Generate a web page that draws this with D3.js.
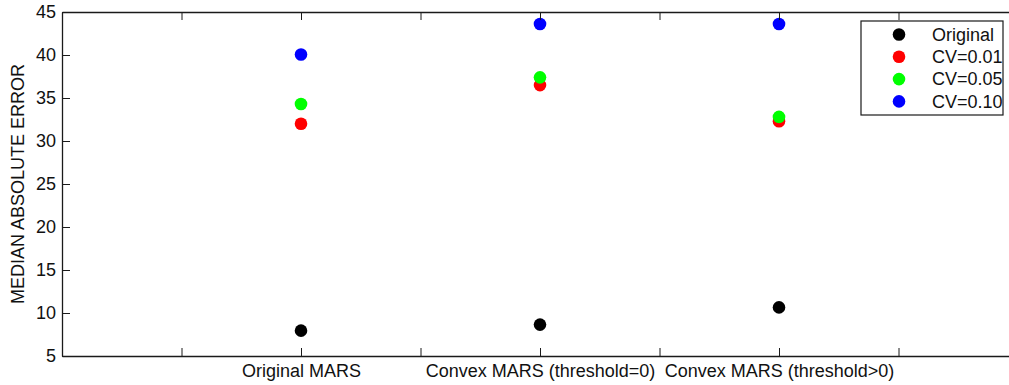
<!DOCTYPE html>
<html>
<head>
<meta charset="utf-8">
<script src="https://cdn.jsdelivr.net/npm/d3@7"></script>
<style>
  html, body { margin: 0; padding: 0; background: #fff; overflow: hidden; }
  svg { display: block; font-family: "Liberation Sans", Arial, Helvetica, sans-serif; }
</style>
</head>
<body>
<svg id="chart" width="1009" height="385"></svg>
<script>
// Methods on the x axis (placed at positions 2, 4, 6)
const methods = ["Original MARS", "Convex MARS (threshold=0)", "Convex MARS (threshold>0)"];
const methodPos = [2, 4, 6];
const xTicks = [1, 2, 3, 4, 5, 6, 7];
const yTicks = [5, 10, 15, 20, 25, 30, 35, 40, 45];

// Median absolute error for each noise setting
const seriesNames = ["Original", "CV=0.01", "CV=0.05", "CV=0.10"];
const seriesColors = ["#000000", "#ff0000", "#00ff00", "#0000ff"];
const original = [7.95, 8.65, 10.65];
const cv001 = [32.0, 36.5, 32.3];
const cv005 = [34.3, 37.4, 32.8];
const cv010 = [40.05, 43.6, 43.6];
const seriesValues = [original, cv001, cv005, cv010];

const svg = d3.select("#chart");
const plotLeft = 62, plotRight = 1018, plotTop = 12, plotBottom = 356;

const x = d3.scaleLinear().domain([0, 8]).range([plotLeft, plotRight]);
const y = d3.scaleLinear().domain([5, 45]).range([plotBottom, plotTop]);

const labelFor = v => {
  const i = methodPos.indexOf(v);
  return i >= 0 ? methods[i] : "";
};

// Points, drawn series by series
seriesValues.forEach((vals, s) => {
  svg.append("g").selectAll("circle")
    .data(vals)
    .join("circle")
    .attr("cx", (d, i) => x(methodPos[i]))
    .attr("cy", d => y(d))
    .attr("r", 6.3)
    .attr("fill", seriesColors[s]);
});

// Box axes with inward ticks
const styleAxis = g => {
  g.attr("font-family", null).attr("font-size", null);
  g.selectAll("path.domain").attr("stroke", "#1a1a1a").attr("stroke-width", 1.3);
  g.selectAll(".tick line").attr("stroke", "#1a1a1a").attr("stroke-width", 1);
  g.selectAll(".tick text").attr("fill", "#111").style("font-size", "18px");
};

svg.append("g")
  .attr("transform", `translate(0,${plotBottom})`)
  .call(d3.axisBottom(x).tickValues(xTicks).tickFormat(labelFor).tickSize(-8).tickSizeOuter(0).tickPadding(8))
  .call(styleAxis);

svg.append("g")
  .attr("transform", `translate(0,${plotTop})`)
  .call(d3.axisTop(x).tickValues(xTicks).tickFormat("").tickSize(-8).tickSizeOuter(0))
  .call(styleAxis);

svg.append("g")
  .attr("transform", `translate(${plotLeft},0)`)
  .call(d3.axisLeft(y).tickValues(yTicks).tickFormat(d3.format("d")).tickSize(-8).tickSizeOuter(0).tickPadding(6))
  .call(styleAxis);

svg.append("g")
  .attr("transform", `translate(${plotRight},0)`)
  .call(d3.axisRight(y).tickValues(yTicks).tickFormat("").tickSize(-8).tickSizeOuter(0))
  .call(styleAxis);

// Y axis title
svg.append("text")
  .attr("transform", `translate(24,${(plotTop + plotBottom) / 2}) rotate(-90)`)
  .attr("text-anchor", "middle")
  .style("font-size", "18px")
  .attr("fill", "#111")
  .text("MEDIAN ABSOLUTE ERROR");

// Legend
const legend = svg.append("g");
legend.append("rect")
  .attr("x", 861).attr("y", 21)
  .attr("width", 142).attr("height", 94)
  .attr("fill", "#fff").attr("stroke", "#1a1a1a").attr("stroke-width", 1.2);

const rows = legend.selectAll("g.row")
  .data(seriesNames)
  .join("g")
  .attr("class", "row")
  .attr("transform", (d, i) => `translate(0,${34.5 + i * 22.3})`);
rows.append("circle")
  .attr("cx", 899).attr("cy", 0).attr("r", 6.3)
  .attr("fill", (d, i) => seriesColors[i]);
rows.append("text")
  .attr("x", 932).attr("y", 0).attr("dy", "0.35em")
  .style("font-size", "18px")
  .attr("fill", "#111")
  .text(d => d);
</script>
</body>
</html>
